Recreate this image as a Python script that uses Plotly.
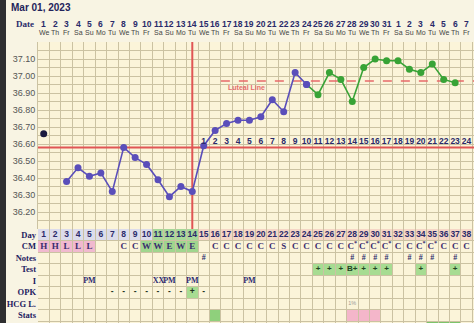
import plotly.graph_objects as go

# ---------------- data ----------------
days = list(range(1, 39))
date_labels = [str(i) for i in range(1, 32)] + ["1", "2", "3", "4", "5", "6", "7"]
weekday_labels = ["We", "Th", "Fr", "Sa", "Su", "Mo", "Tu",
                  "We", "Th", "Fr", "Sa", "Su", "Mo", "Tu",
                  "We", "Th", "Fr", "Sa", "Su", "Mo", "Tu",
                  "We", "Th", "Fr", "Sa", "Su", "Mo", "Tu",
                  "We", "Th", "Fr", "Sa", "Su", "Mo", "Tu",
                  "We", "Th", "Fr"]
temps = [36.66, None, 36.38, 36.46, 36.41, 36.43, 36.32, 36.58, 36.52, 36.48,
         36.39, 36.29, 36.35, 36.32, 36.59, 36.68, 36.72, 36.74, 36.74, 36.76,
         36.86, 36.79, 37.02, 36.95, 36.89, 37.02, 36.98, 36.85, 37.05, 37.10,
         37.09, 37.09, 37.04, 37.02, 37.07, 36.98, 36.96, None]
excluded_days = [1]
green_from_day = 24
temp_ticks = [36.20, 36.30, 36.40, 36.50, 36.60, 36.70, 36.80, 36.90, 37.00, 37.10]
coverline = 36.58
luteal_line = 36.97
luteal_line_start = 16.5
ovulation_day = 14
luteal_counts = [str(i) for i in range(1, 25)]
luteal_count_start_day = 15

row_names = ["Day", "CM", "Notes", "Test", "I", "OPK", "HCG L.", "Stats"]
cm_labels = ["H", "H", "L", "L", "L", "", "", "C", "C", "W", "W", "E", "W", "E",
             "", "C", "C", "C", "C", "C", "C", "S", "C", "C", "C", "C", "C",
             "C*", "C*", "C*", "C*", "C", "C", "C*", "C*", "C", "C", "C"]
cm_pink_days = [1, 2, 3, 4, 5]
cm_green_days = [10, 11, 12, 13, 14]
day_green_days = [11, 12, 13, 14]
notes_days = [15, 28, 29, 30, 31, 33, 34, 35, 37]
test_days = [25, 26, 27, 28, 29, 30, 31, 34, 37]
test_labels = ["+", "+", "+", "B+", "+", "+", "+", "+", "+"]
i_days = [5, 11, 12, 14, 19]
i_labels = ["PM", "XX", "PM", "PM", "PM"]
opk_days = [7, 8, 9, 10, 11, 12, 13, 14, 15]
opk_labels = ["-", "-", "-", "-", "-", "-", "-", "+", "-"]
hcg_days = [28]
hcg_labels = ["1%"]
stats_green_days = [16]
stats_pink_days = [28, 29, 30]
extra_green_days = [35, 36, 37]

# ---------------- geometry / style ----------------
W, H = 474, 323
def py(p):
    return 1 - p / H

NAVY = "#2A2A6A"
GRID = "#CBC2A2"
RED = "#E05555"
PURPLE = "#5A4EBA"
GREEN = "#38A336"

temp_top, temp_bot = 42, 229
row_h = 11.5
table_rows = (H - temp_bot) / row_h

fig = go.Figure()

# temperature traces
ex_x = [d for d in excluded_days]
ex_y = [temps[d - 1] for d in excluded_days]
fig.add_trace(go.Scatter(x=ex_x, y=ex_y, mode="markers",
                         marker=dict(color="#1B1A3E", size=7), hoverinfo="skip"))
pur_x = [d for d in days if d not in excluded_days and d <= green_from_day and temps[d - 1] is not None]
pur_y = [temps[d - 1] for d in pur_x]
fig.add_trace(go.Scatter(x=pur_x, y=pur_y, mode="lines+markers",
                         line=dict(color=PURPLE, width=1.6),
                         marker=dict(color=PURPLE, size=7)))
gr_x = [d for d in days if d >= green_from_day and temps[d - 1] is not None]
gr_y = [temps[d - 1] for d in gr_x]
fig.add_trace(go.Scatter(x=gr_x, y=gr_y, mode="lines",
                         line=dict(color=GREEN, width=1.6)))
fig.add_trace(go.Scatter(x=gr_x[1:], y=gr_y[1:], mode="markers",
                         marker=dict(color=GREEN, size=7)))
fig.add_trace(go.Scatter(x=[green_from_day], y=[temps[green_from_day - 1]], mode="markers",
                         marker=dict(color=PURPLE, size=7)))

# luteal counts
lc_x = [luteal_count_start_day + i for i in range(len(luteal_counts))]
fig.add_trace(go.Scatter(x=lc_x, y=[36.613] * len(lc_x), mode="text",
                         text=["<b>%s</b>" % t for t in luteal_counts],
                         textfont=dict(size=8.5, color=NAVY, family="Liberation Sans Narrow, Liberation Sans")))

# table text traces
def add_row_text(row, xs, labels, size=8.5, color=NAVY, family="Liberation Sans", bold=True):
    pairs = [(x, l) for x, l in zip(xs, labels) if l]
    txt = [("<b>%s</b>" % l if bold else l) for _, l in pairs]
    fig.add_trace(go.Scatter(x=[p[0] for p in pairs], y=[row + 0.5] * len(pairs), xaxis="x2", yaxis="y2",
                             mode="text", text=txt,
                             textfont=dict(size=size, color=color, family=family)))

add_row_text(0, days, [str(d) for d in days], size=8.5, family="Liberation Sans Narrow, Liberation Sans")
cm_txt = [l.replace("*", "<sup>*</sup>") for l in cm_labels]
add_row_text(1, days, cm_txt, size=9, color="#3A2C6E", family="Liberation Serif")
add_row_text(2, notes_days, ["#"] * len(notes_days), size=8, family="Liberation Serif")
add_row_text(3, test_days, test_labels, size=8, color="#224422")
add_row_text(4, [d + 0.05 if l == "XX" else d for d, l in zip(i_days, i_labels)], i_labels,
             size=8, color="#2E2A70", family="Liberation Serif")
add_row_text(5, opk_days, opk_labels, size=8.5, color="#223322")
add_row_text(6, hcg_days, hcg_labels, size=5.5, color="#9A9A9A", bold=False)

shapes = []
def cell(d, row, color):
    shapes.append(dict(type="rect", xref="x2", yref="y2", x0=d - 0.5, x1=d + 0.5,
                       y0=row, y1=row + 1, fillcolor=color, line=dict(width=0), layer="below"))

for d in days:
    if d in day_green_days:
        c = "#A7D899"
    elif d < ovulation_day:
        c = "#DCDCEB"
    else:
        c = "#F5D6C6"
    cell(d, 0, c)
for d in cm_pink_days:
    cell(d, 1, "#F1B9CF")
for d in cm_green_days:
    cell(d, 1, "#A0D68E")
for d in test_days:
    cell(d, 3, "#A7DC92")
for d, l in zip(opk_days, opk_labels):
    if l == "+":
        cell(d, 5, "#A7DC92")
for d in stats_green_days:
    cell(d, 7, "#8FD07C")
for d in stats_pink_days:
    cell(d, 7, "#F4B6CA")
for d in extra_green_days:
    cell(d, 8, "#7CC46A")

# coverline, ovulation line, luteal line
shapes.append(dict(type="line", xref="x", yref="y", x0=0.5, x1=38.65, y0=coverline, y1=coverline,
                   line=dict(color=RED, width=2), layer="between"))
shapes.append(dict(type="line", xref="x", yref="y", x0=ovulation_day, x1=ovulation_day,
                   y0=36.10, y1=37.20, line=dict(color=RED, width=2), layer="between"))
shapes.append(dict(type="line", xref="x", yref="y", x0=luteal_line_start, x1=38.65,
                   y0=luteal_line, y1=luteal_line, line=dict(color="#E86A6A", width=1.5, dash="dash"),
                   layer="between"))
shapes.append(dict(type="rect", xref="paper", yref="paper", x0=0, x1=6 / W, y0=0, y1=1,
                   fillcolor="#2E2E30", line=dict(width=0), layer="above"))

annotations = []
annotations.append(dict(text="<b>Mar 01, 2023</b>", xref="paper", yref="paper", x=9 / W, y=py(8),
                        xanchor="left", yanchor="middle", showarrow=False,
                        font=dict(size=10, color="#23235A", family="Liberation Sans")))
annotations.append(dict(text="<b>Date</b>", xref="paper", yref="paper", x=36 / W, y=py(24),
                        xanchor="right", yanchor="middle", showarrow=False,
                        font=dict(size=9, color=NAVY, family="Liberation Serif")))
for d, dl, wd in zip(days, date_labels, weekday_labels):
    annotations.append(dict(text="<b>%s</b>" % dl, xref="x", yref="paper", x=d, y=py(24),
                            xanchor="center", yanchor="middle", showarrow=False,
                            font=dict(size=8.5, color=NAVY, family="Liberation Sans")))
    annotations.append(dict(text=wd, xref="x", yref="paper", x=d, y=py(33),
                            xanchor="center", yanchor="middle", showarrow=False,
                            font=dict(size=7, color="#444444", family="Liberation Sans")))
annotations.append(dict(text="<b>Luteal Line</b>", xref="x", yref="y", x=18.7, y=36.93,
                        xanchor="center", yanchor="middle", showarrow=False,
                        font=dict(size=7, color="#E46C6C", family="Liberation Sans")))

xdom = [38 / W, 1.0]
fig.update_layout(
    width=W, height=H, margin=dict(l=0, r=0, t=0, b=0),
    paper_bgcolor="#F8F4E3", plot_bgcolor="#FBF4D9",
    showlegend=False, shapes=shapes, annotations=annotations,
    xaxis=dict(domain=xdom, range=[0.5, 38.65], anchor="y", tickmode="linear", tick0=0.5, dtick=1,
               showgrid=True, gridcolor=GRID, gridwidth=1, showticklabels=False, ticks="",
               zeroline=False, showline=False),
    yaxis=dict(domain=[py(temp_bot), py(temp_top)], range=[36.10, 37.20], anchor="x",
               tickmode="array", tickvals=temp_ticks, ticktext=["%.2f" % t for t in temp_ticks],
               tickfont=dict(size=9, color="#555555", family="Liberation Sans"),
               showgrid=True, gridcolor=GRID, ticks="", zeroline=False,
               minor=dict(tickmode="linear", tick0=36.05, dtick=0.1, showgrid=True, gridcolor=GRID),
               showline=True, linecolor=GRID, mirror=True),
    xaxis2=dict(domain=xdom, range=[0.5, 38.65], anchor="y2", matches="x", tickmode="linear",
                tick0=0.5, dtick=1, showgrid=True, gridcolor=GRID, showticklabels=False, ticks="",
                zeroline=False),
    yaxis2=dict(domain=[0, py(temp_bot)], range=[table_rows, 0], anchor="x2",
                tickmode="array", tickvals=[i + 0.5 for i in range(len(row_names))],
                ticktext=["<b>%s</b>" % r for r in row_names],
                tickfont=dict(size=8.5, color="#1E2060", family="Liberation Serif"),
                showgrid=False, ticks="", zeroline=False, ticklabelstandoff=1,
                minor=dict(tickmode="linear", tick0=0, dtick=1, showgrid=True, gridcolor=GRID)),
)

fig.write_html("out.html")
